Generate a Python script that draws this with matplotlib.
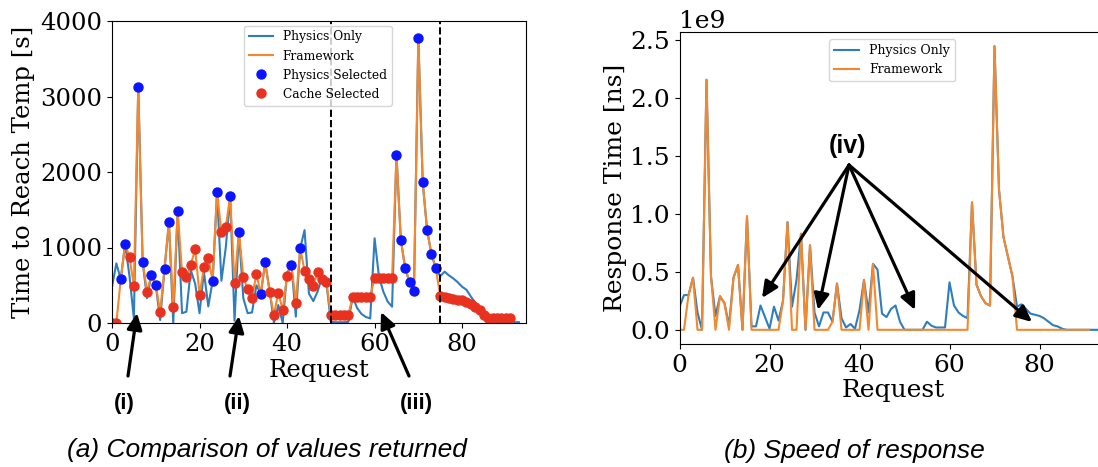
import matplotlib
matplotlib.use("Agg")
import matplotlib.pyplot as plt
import numpy as np

# --- data ---
# (a) time to reach temp [s]
physics_only = [480, 790, 580, 1046, 620, 60, 3130, 812, 330, 636,
                503, 40, 715, 1333, 0, 1488, 130, 150, 700, 520,
                130, 680, 220, 561, 1731, 560, 1000, 1682, 30, 1210,
                330, 130, 140, 500, 384, 803, 437, 0, 238, 0,
                660, 768, 84, 989, 1230, 390, 290, 420, 613, 530,
                15, 10, 10, 10, 15, 350, 200, 120, 80, 60,
                1122, 614, 415, 282, 216, 2225, 1100, 724, 539, 428,
                3770, 1863, 1232, 909, 724, 620, 680, 630, 590, 540,
                480, 440, 350, 270, 200, 120, 50, 20, 10, 10,
                10, 10, 10, 10]
framework = [0, 0, 580, 1046, 870, 494, 3130, 812, 415, 636,
             503, 150, 715, 1333, 207, 1488, 671, 605, 768, 980,
             371, 737, 857, 561, 1731, 1210, 1267, 1682, 525, 1210,
             605, 446, 336, 649, 384, 803, 415, 106, 402, 172,
             627, 768, 269, 989, 693, 583, 494, 680, 578, 539,
             106, 106, 106, 106, 106, 349, 349, 349, 349, 349,
             592, 592, 592, 592, 592, 2225, 1100, 724, 539, 428,
             3770, 1863, 1232, 909, 724, 357, 340, 330, 320, 310,
             300, 280, 250, 215, 170, 110, 66, 66, 66, 66,
             66, 66]
# P = physics selected, C = cache selected (one letter per request)
selected = ("CCPPCCPPCP" "PCPPCPCCCC" "CCCPPCCPCP" "CCCCPPCCCC" "CPCPCCCCCC"
            "CCCCCCCCCC" "CCCCCPPPPP" "PPPPPCCCCC" "CCCCCCCCCC" "CC")

# (b) response time, in units of 1e9 ns
physics_resp = [0.20, 0.30, 0.30, 0.45, 0.15, 0.0, 2.16, 0.46, 0.12, 0.29,
                0.23, 0.04, 0.45, 0.56, 0.0, 0.98, 0.03, 0.03, 0.21, 0.11,
                0.01, 0.20, 0.08, 0.25, 0.93, 0.20, 0.43, 0.83, 0.0, 0.73,
                0.15, 0.03, 0.15, 0.15, 0.07, 0.40, 0.10, 0.02, 0.05, 0.01,
                0.17, 0.43, 0.15, 0.57, 0.52, 0.14, 0.11, 0.18, 0.21, 0.07,
                0.0, 0.0, 0.0, 0.0, 0.0, 0.07, 0.035, 0.02, 0.02, 0.02,
                0.41, 0.21, 0.15, 0.12, 0.10, 1.10, 0.39, 0.29, 0.23, 0.21,
                2.45, 1.21, 0.80, 0.63, 0.46, 0.20, 0.22, 0.18, 0.14, 0.13,
                0.12, 0.10, 0.07, 0.04, 0.03, 0.01, 0.0, 0.0, 0.0, 0.0,
                0.0, 0.0, 0.0, 0.0]
framework_resp = [0, 0, 0.30, 0.45, 0, 0, 2.16, 0.46, 0, 0.29,
                  0.23, 0, 0.45, 0.56, 0, 0.98, 0, 0, 0, 0,
                  0, 0, 0, 0.25, 0.93, 0, 0, 0.83, 0, 0.73,
                  0, 0, 0, 0, 0.07, 0.40, 0, 0, 0, 0,
                  0, 0.43, 0, 0.57, 0, 0, 0, 0, 0, 0,
                  0, 0, 0, 0, 0, 0, 0, 0, 0, 0,
                  0, 0, 0, 0, 0, 1.10, 0.39, 0.29, 0.23, 0.21,
                  2.45, 1.21, 0.80, 0.63, 0.46, 0, 0, 0, 0, 0,
                  0, 0, 0, 0, 0, 0, 0, 0, 0, 0,
                  0, 0]

phase_lines = [50, 75]

plt.rcParams['font.family'] = 'DejaVu Serif'
W, H = 1098, 467
fig = plt.figure(figsize=(W / 100, H / 100), dpi=100)

def px_axes(x0, y0, x1, y1):
    # rectangle given in image pixels (top-left origin)
    return fig.add_axes([x0 / W, 1 - y1 / H, (x1 - x0) / W, (y1 - y0) / H])

c_phys = '#2f7dbd'
c_frame = '#f5872c'

# ---------- (a) ----------
ax1 = px_axes(112, 21, 526, 323)
x_p = np.arange(len(physics_only))
x_f = np.arange(len(framework))
fw = np.array(framework, dtype=float)
sel = np.array(list(selected))
ax1.plot(x_p, physics_only, color=c_phys, lw=1.5, label='Physics Only')
ax1.plot(x_f, fw, color=c_frame, lw=1.5, label='Framework')
ax1.plot(x_f[sel == 'P'], fw[sel == 'P'], 'o', color='#0a14ff', ms=6.5,
         label='Physics Selected')
ax1.plot(x_f[sel == 'C'], fw[sel == 'C'], 'o', color='#e8321f', ms=6.5,
         label='Cache Selected')
for xv in phase_lines:
    ax1.axvline(xv, color='black', ls='--', lw=1.4)
ax1.set_xlim(0, 94.6)
ax1.set_ylim(0, 4000)
ax1.set_xticks([0, 20, 40, 60, 80])
ax1.set_yticks([0, 1000, 2000, 3000, 4000])
ax1.tick_params(labelsize=17.5)
ax1.set_xlabel('Request', fontsize=17.5, labelpad=2)
ax1.set_ylabel('Time to Reach Temp [s]', fontsize=17.5, labelpad=4)
ax1.legend(loc='upper left', bbox_to_anchor=(0.318, 0.985), borderaxespad=0,
           fontsize=8.8)

# ---------- (b) ----------
ax2 = px_axes(679.5, 32, 1107, 344)
ax2.plot(np.arange(len(physics_resp)), np.array(physics_resp) * 1e9,
         color=c_phys, lw=1.5, label='Physics Only')
ax2.plot(np.arange(len(framework_resp)), np.array(framework_resp) * 1e9,
         color=c_frame, lw=1.5, label='Framework')
ax2.set_xlim(0, 95)
ax2.set_xticks([0, 20, 40, 60, 80])
ax2.set_yticks(np.array([0, 0.5, 1.0, 1.5, 2.0, 2.5]) * 1e9)
ax2.tick_params(labelsize=18)
ax2.yaxis.get_offset_text().set_fontsize(18)
ax2.set_xlabel('Request', fontsize=18, labelpad=2)
ax2.set_ylabel('Response Time [ns]', fontsize=18, labelpad=2)
ax2.legend(loc='upper left', bbox_to_anchor=(0.35, 0.977), borderaxespad=0,
           fontsize=9)

# ---------- annotations ----------
def arrow(x0, y0, x1, y1):
    fig.add_artist(matplotlib.patches.FancyArrowPatch(
        (x0, H - y0), (x1, H - y1), transform=None,
        arrowstyle='-|>,head_length=0.75,head_width=0.35', mutation_scale=13,
        lw=2.3, color='black', shrinkA=0, shrinkB=0))

bold = dict(family='Liberation Sans', fontweight='bold', ha='center', va='center')
for lab, lx, ly, tx, hx, hy in [('(i)', 124, 404, 128, 137, 313),
                                ('(ii)', 237, 404, 230, 239, 316),
                                ('(iii)', 416, 404, 409, 381, 312)]:
    fig.text(lx / W, 1 - ly / H, lab, fontsize=16, **bold)
    arrow(tx, 376, hx, hy)

fig.text(848 / W, 1 - 146 / H, '(iv)', fontsize=18, **bold)
for hx, hy in [(762, 298), (818, 310), (915, 310), (1032, 322)]:
    arrow(849, 165, hx, hy)

cap = dict(family='Liberation Sans', style='italic', ha='center', va='center',
           fontsize=19)
fig.text(267 / W, 1 - 450 / H, '(a) Comparison of values returned', **cap)
fig.text(854 / W, 1 - 451 / H, '(b) Speed of response', **cap)

fig.savefig('out.png', dpi=100)
